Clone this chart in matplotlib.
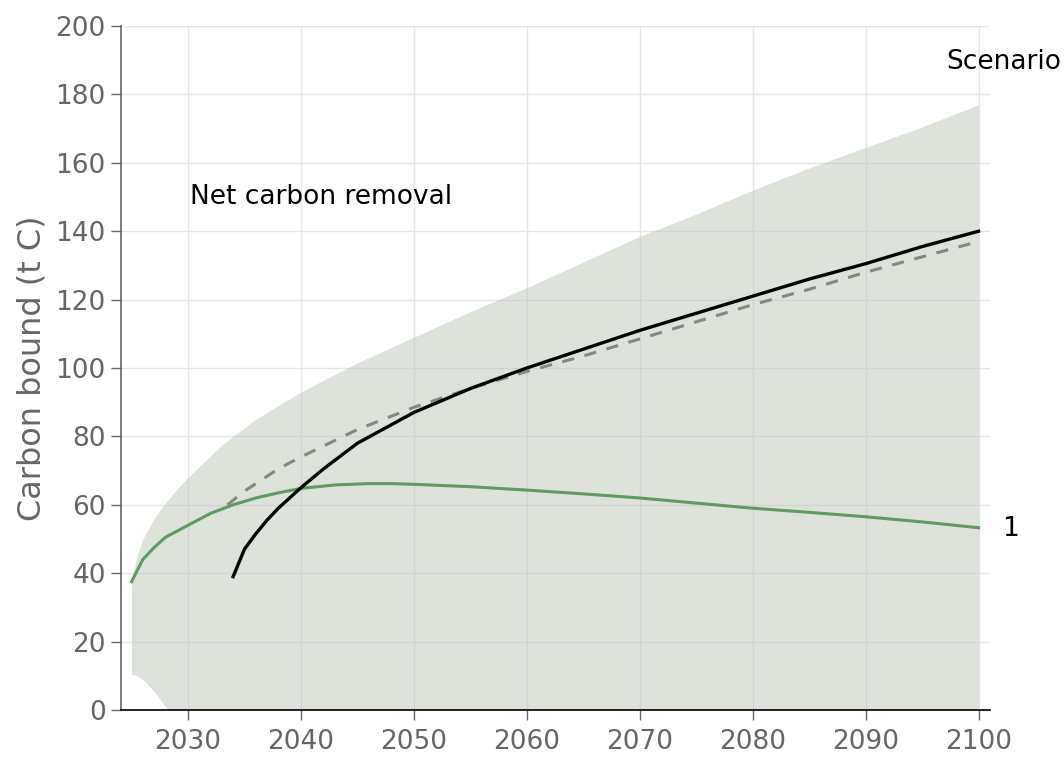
import matplotlib
matplotlib.use("Agg")
import matplotlib.pyplot as plt
import numpy as np

# ---- data ----
band_years = [2025, 2025.5, 2026, 2027, 2028, 2029, 2030, 2033, 2036, 2040, 2045, 2050, 2055,
              2060, 2065, 2070, 2075, 2080, 2085, 2090, 2095, 2100]
band_upper = [38, 45, 50, 56, 60.5, 64.5, 68, 77.5, 85, 93, 101.5, 109, 116.5,
              123.5, 131, 138.5, 145, 152, 158.5, 164.5, 170.5, 177]
band_lower = [10.5, 10, 9, 5.5, 1, -3, -6, -10, -12, -14, -15, -16, -16,
              -16, -16, -16, -16, -16, -16, -16, -16, -16]

green_years = [2025, 2026, 2027, 2028, 2030, 2032, 2034, 2036, 2038, 2040, 2043, 2046,
               2048, 2050, 2055, 2060, 2065, 2070, 2075, 2080, 2085, 2090, 2095, 2100]
green_vals = [37.5, 44, 47.5, 50.5, 54, 57.5, 60, 62, 63.5, 64.8, 65.8, 66.2,
              66.2, 66, 65.3, 64.3, 63.2, 62, 60.5, 59, 57.8, 56.5, 55, 53.3]

dashed_years = [2033.5, 2035, 2038, 2040, 2045, 2050, 2055, 2060, 2065, 2070, 2075,
                2080, 2085, 2090, 2095, 2100]
dashed_vals = [60, 64, 70.5, 74, 82, 88.5, 94, 99, 103.5, 108.5, 113.5,
               118.5, 123, 128, 132.5, 137]

black_years = [2034, 2035, 2036, 2037, 2038, 2040, 2042, 2045, 2050, 2055, 2060, 2065,
               2070, 2075, 2080, 2085, 2090, 2095, 2100]
black_vals = [39, 47, 51.5, 55.5, 59, 65, 70.5, 78, 87, 94, 100, 105.5,
              111, 116, 121, 126, 130.5, 135.5, 140]

x_ticks = [2030, 2040, 2050, 2060, 2070, 2080, 2090, 2100]
y_ticks = [0, 20, 40, 60, 80, 100, 120, 140, 160, 180, 200]

fig = plt.figure(figsize=(10.64, 7.58), dpi=100)
ax = fig.add_axes([0.1137, 0.0633, 0.8163, 0.9024])

ax.set_xlim(2024.07, 2100.97)
ax.set_ylim(0, 200)

ax.grid(True, color='#e6e6e6', linewidth=1.0, zorder=0)
ax.set_axisbelow(True)

ax.fill_between(band_years, band_lower, band_upper, color='#bdc6b9', alpha=0.5,
                linewidth=0, zorder=1)

ax.plot(green_years, green_vals, color='#5e9a62', linewidth=2.2, zorder=3)
ax.plot(dashed_years, dashed_vals, color='#7f8a80', linewidth=2.2,
        linestyle=(0, (4, 3.5)), zorder=3)
ax.plot(black_years, black_vals, color='black', linewidth=2.4, zorder=4)

ax.set_xticks(x_ticks)
ax.set_yticks(y_ticks)
ax.tick_params(axis='both', labelsize=19, colors='#666666', length=7, width=1,
               direction='out')
ax.tick_params(axis='x', pad=7)
ax.tick_params(axis='y', pad=4)

for side in ['top', 'right']:
    ax.spines[side].set_visible(False)
ax.spines['left'].set_color('#666666')
ax.spines['bottom'].set_color('black')
ax.spines['left'].set_linewidth(1.2)
ax.spines['bottom'].set_linewidth(1.2)

ax.set_ylabel('Carbon bound (t C)', fontsize=23, color='#666666', labelpad=6)

ax.text(2030.2, 150, 'Net carbon removal', fontsize=19, color='black',
        ha='left', va='center')
ax.text(2097.1, 189.5, 'Scenario', fontsize=19, color='black',
        ha='left', va='center', clip_on=False)
ax.text(2102.1, 52.8, '1', fontsize=19, color='black',
        ha='left', va='center', clip_on=False)

fig.savefig('out.png', dpi=100)
